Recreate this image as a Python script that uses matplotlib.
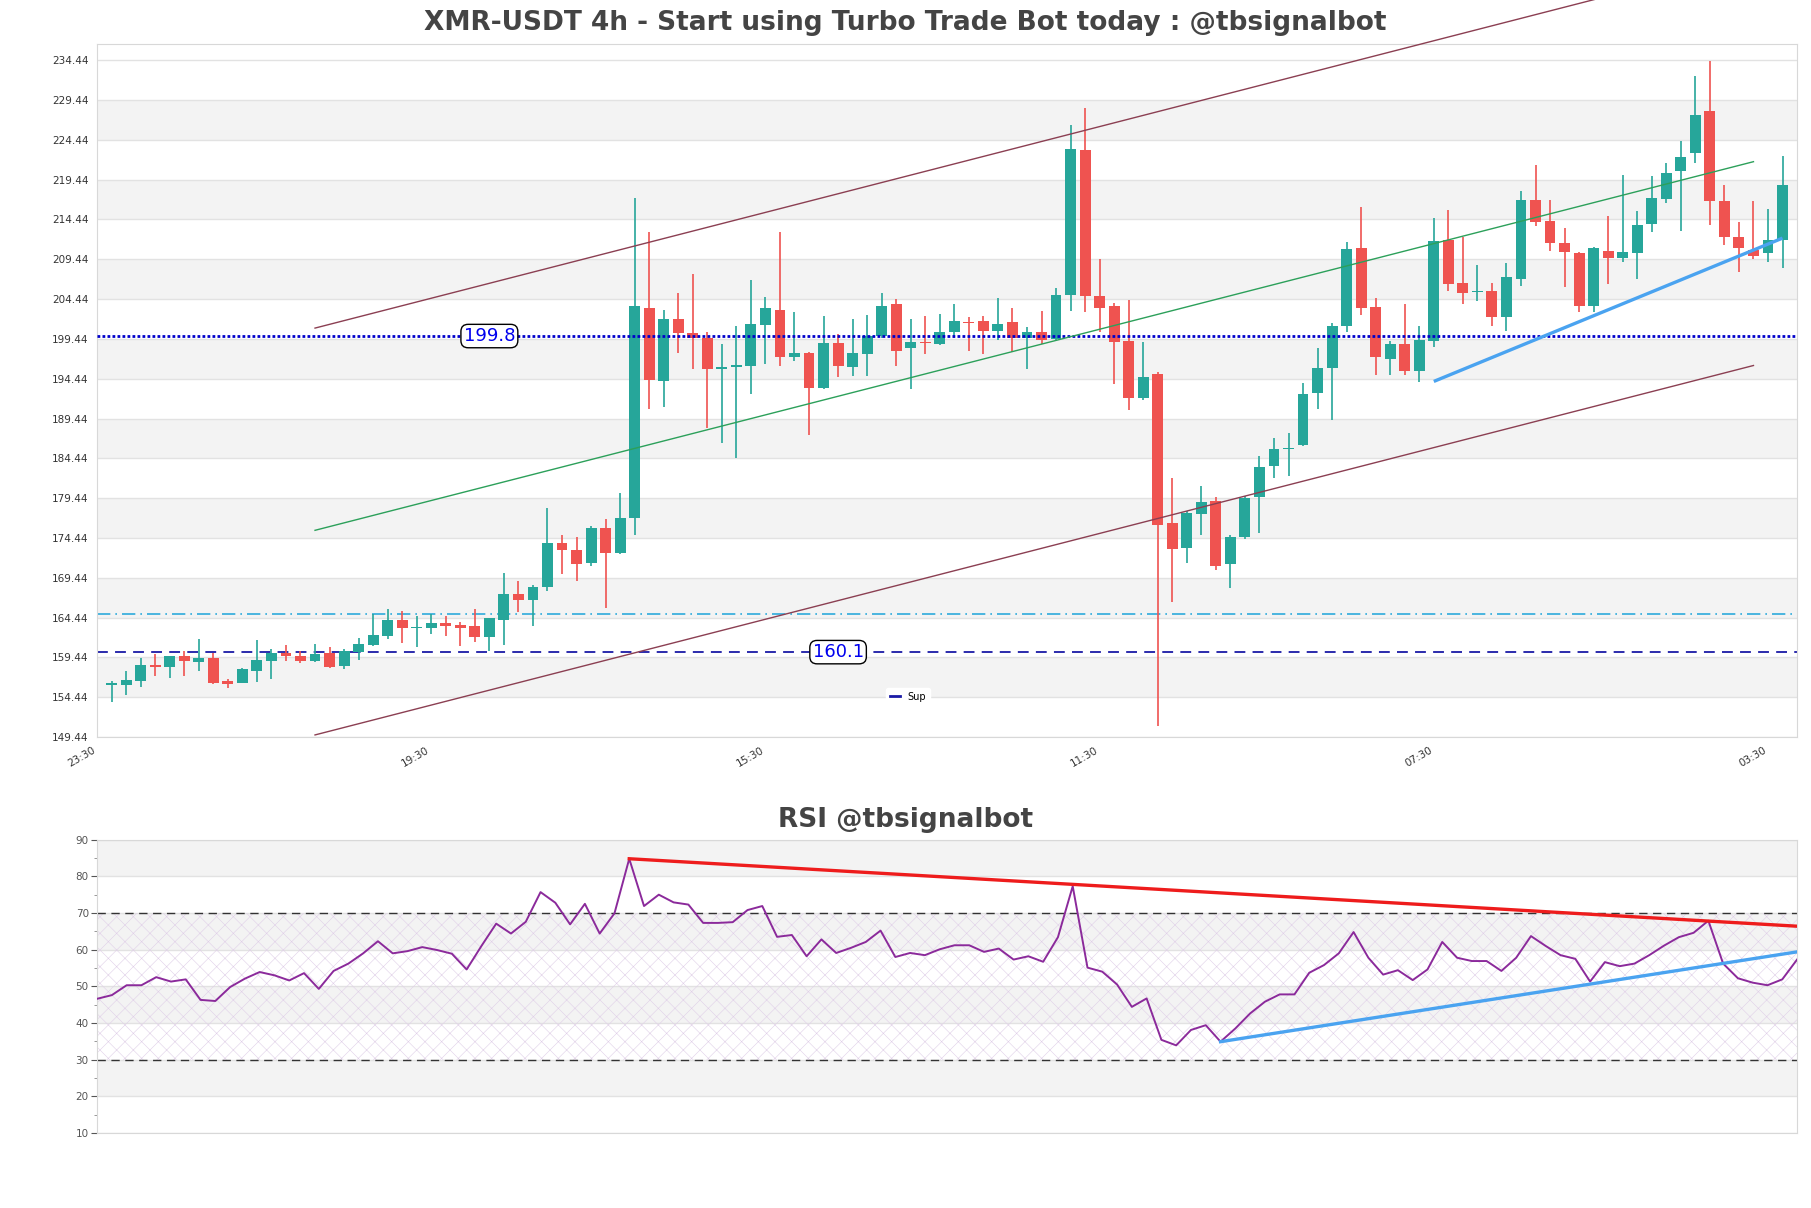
import matplotlib
matplotlib.use("Agg")
import matplotlib.pyplot as plt
from matplotlib.lines import Line2D
import numpy as np

# ---------------- data ----------------
opens = [155.96, 156.00, 156.51, 158.47, 158.27, 159.57, 158.90, 159.36, 156.51, 156.22,
         157.77, 159.02, 159.98, 159.57, 159.02, 159.98, 158.39, 160.15, 160.99, 162.16,
         164.13, 163.08, 163.13, 163.75, 163.50, 163.33, 162.04, 164.17, 167.40, 166.68,
         168.32, 173.84, 172.92, 171.24, 175.64, 172.50, 176.89, 203.28, 194.15, 201.89,
         200.13, 199.59, 195.61, 195.90, 196.10, 201.20, 203.02, 197.16, 197.71, 193.30,
         198.90, 195.91, 197.58, 199.80, 203.78, 198.33, 199.00, 198.80, 200.32, 201.50,
         201.63, 200.43, 201.52, 199.51, 200.27, 199.40, 204.96, 223.17, 204.79, 203.54,
         199.23, 191.98, 195.09, 176.28, 173.17, 177.42, 179.06, 171.15, 174.53, 179.55,
         183.53, 185.60, 186.15, 192.60, 195.80, 201.00, 210.87, 203.48, 196.90, 198.79,
         195.43, 199.20, 211.87, 206.42, 205.30, 205.41, 202.23, 207.00, 216.91, 214.22,
         211.50, 210.24, 203.61, 210.45, 209.57, 210.20, 213.90, 217.03, 220.47, 222.78,
         228.02, 216.74, 212.21, 210.61, 210.20, 211.92]
highs = [156.43, 157.68, 159.31, 159.86, 159.60, 160.19, 161.74, 159.98, 156.72, 158.10,
         161.62, 160.49, 160.99, 160.28, 161.12, 160.70, 160.49, 161.87, 164.88, 165.51,
         165.22, 164.67, 164.88, 164.67, 163.84, 165.51, 164.40, 170.04, 168.99, 168.53,
         178.24, 174.76, 174.59, 175.98, 176.77, 180.03, 217.18, 212.87, 203.02, 205.16,
         207.55, 200.30, 198.75, 201.06, 206.84, 204.74, 212.87, 202.86, 197.83, 202.31,
         200.09, 201.89, 202.44, 205.24, 204.41, 201.89, 202.34, 202.61, 203.87, 202.18,
         202.34, 204.63, 203.27, 200.98, 202.89, 205.89, 226.33, 228.40, 209.43, 203.98,
         204.36, 199.07, 195.25, 182.00, 177.80, 180.91, 179.55, 174.80, 179.70, 184.73,
         186.96, 187.62, 193.89, 198.25, 201.40, 211.58, 215.98, 204.53, 199.21, 203.82,
         201.09, 214.60, 215.65, 212.21, 208.73, 206.42, 208.94, 218.00, 221.31, 216.91,
         213.38, 210.40, 210.95, 214.94, 220.05, 215.48, 219.84, 221.56, 224.25, 232.47,
         234.36, 218.79, 214.10, 216.74, 215.77, 222.36]
lows = [153.79, 154.71, 155.76, 157.14, 156.84, 157.14, 157.77, 156.09, 155.55, 156.17,
        156.38, 156.72, 159.02, 158.69, 158.81, 158.10, 157.97, 159.15, 160.82, 161.74,
        161.24, 160.78, 162.37, 162.16, 160.91, 161.33, 160.19, 161.03, 165.18, 163.42,
        167.77, 169.86, 169.02, 170.91, 165.59, 172.40, 174.76, 190.59, 190.88, 197.71,
        195.61, 188.28, 186.40, 184.43, 192.47, 196.32, 196.03, 196.66, 187.32, 193.20,
        194.65, 194.78, 194.78, 199.59, 196.03, 193.18, 197.60, 198.69, 199.61, 197.98,
        197.60, 199.34, 197.82, 195.63, 198.80, 199.34, 202.89, 202.78, 200.27, 193.73,
        190.51, 191.82, 150.81, 166.35, 171.26, 174.81, 170.44, 168.10, 174.30, 175.08,
        182.00, 182.17, 186.00, 190.62, 189.26, 200.34, 202.44, 194.88, 194.88, 194.88,
        194.05, 198.37, 205.50, 203.82, 204.24, 201.09, 200.46, 206.13, 213.68, 210.53,
        206.00, 202.77, 202.77, 206.34, 209.15, 206.97, 212.92, 216.53, 213.05, 221.52,
        213.80, 211.29, 207.80, 209.48, 209.15, 208.35]
closes = [155.98, 156.59, 158.47, 158.27, 159.57, 159.02, 159.36, 156.22, 156.13, 157.97,
          159.10, 159.98, 159.57, 159.02, 159.86, 158.27, 160.19, 161.12, 162.25, 164.13,
          163.08, 163.17, 163.75, 163.42, 163.13, 162.04, 164.38, 167.40, 166.68, 168.32,
          173.84, 172.92, 171.12, 175.64, 172.50, 176.98, 203.57, 194.23, 201.89, 200.13,
          199.51, 195.61, 195.95, 196.11, 201.27, 203.28, 197.16, 197.71, 193.23, 198.96,
          196.03, 197.71, 199.80, 203.57, 197.92, 199.09, 198.90, 200.32, 201.63, 201.41,
          200.43, 201.36, 199.51, 200.32, 199.34, 204.96, 223.33, 204.79, 203.32, 199.07,
          191.98, 194.71, 176.06, 173.01, 177.53, 179.00, 170.88, 174.53, 179.44, 183.37,
          185.60, 185.80, 192.53, 195.80, 201.09, 210.74, 203.27, 197.23, 198.79, 195.43,
          199.29, 211.71, 206.34, 205.20, 205.40, 202.23, 207.17, 216.91, 214.18, 211.45,
          210.32, 203.61, 210.82, 209.57, 210.32, 213.76, 217.16, 220.26, 222.28, 227.60,
          216.82, 212.21, 210.82, 209.90, 211.92, 218.71]
rsi = [46.6, 47.6, 50.3, 50.3, 52.5, 51.3, 51.9, 46.3, 46.0, 49.8,
       52.1, 53.9, 53.0, 51.6, 53.6, 49.3, 54.2, 56.2, 59.0, 62.3,
       59.0, 59.6, 60.7, 59.9, 58.9, 54.6, 61.0, 67.1, 64.4, 67.6,
       75.7, 72.8, 66.9, 72.5, 64.4, 69.9, 84.8, 71.9, 75.0, 72.9,
       72.3, 67.3, 67.3, 67.5, 70.8, 71.9, 63.5, 64.0, 58.2, 62.8,
       59.1, 60.5, 62.1, 65.2, 58.0, 59.1, 58.5, 60.1, 61.2, 61.2,
       59.4, 60.3, 57.3, 58.2, 56.7, 63.4, 77.3, 55.1, 54.0, 50.5,
       44.4, 46.7, 35.4, 33.9, 38.1, 39.4, 34.9, 38.5, 42.6, 45.8,
       47.8, 47.8, 53.7, 55.8, 59.0, 64.8, 57.8, 53.2, 54.4, 51.7,
       54.6, 62.1, 57.8, 56.9, 56.9, 54.2, 57.8, 63.7, 61.0, 58.5,
       57.5, 51.3, 56.6, 55.5, 56.2, 58.5, 61.1, 63.4, 64.6, 67.9,
       56.2, 52.2, 51.0, 50.3, 51.9, 57.3]

x_tick_labels = ["23:30", "19:30", "15:30", "11:30", "07:30", "03:30"]
y_tick_values = [149.44 + 5 * k for k in range(18)]

# channel lines (start index, end index) and prices
channel_x = [14, 113]
channel_upper = [200.8, 247.2]
channel_mid = [175.4, 221.7]
channel_lower = [149.7, 196.1]
trend_main_x = [91, 115]
trend_main_y = [194.1, 212.1]
resistance_level = 199.8
support_level = 160.1
aux_level = 164.88
rsi_res_x = [36, 115]
rsi_res_y = [84.8, 66.4]
rsi_sup_x = [76, 115]
rsi_sup_y = [34.9, 59.4]

# ---------------- figure ----------------
N = len(opens)
xs = np.arange(N)
fig = plt.figure(figsize=(18.11, 12.08), dpi=100)
ax = fig.add_axes([0.0536, 0.3899, 0.9387, 0.5738])
ax2 = fig.add_axes([0.0536, 0.0621, 0.9387, 0.2428])

GREEN = "#26a69a"
RED = "#ef5350"
BAND = "#f3f3f3"
GRID = "#e2e2e2"
SPINE = "#d8d8d8"

ymin, ymax = 149.44, 236.5
ax.set_xlim(-1, N)
ax.set_ylim(ymin, ymax)
for k in range(1, len(y_tick_values) - 1, 2):
    ax.axhspan(y_tick_values[k], y_tick_values[k + 1], color=BAND, zorder=0, lw=0)
ax.set_yticks(y_tick_values)
ax.set_yticklabels(["%.2f" % v for v in y_tick_values])
ax.yaxis.grid(True, color=GRID, lw=1, zorder=0.5)
ax.set_axisbelow(True)

tick_pos = [-1 + 23 * k for k in range(len(x_tick_labels))]
ax.set_xticks(tick_pos)
ax.set_xticklabels(x_tick_labels, rotation=30, ha="right")
ax.tick_params(axis="both", length=0, labelsize=7.5, colors="#333333", pad=6)
for s in ax.spines.values():
    s.set_color(SPINE)

# candles
o = np.array(opens); h = np.array(highs); l = np.array(lows); c = np.array(closes)
up = c >= o
cols = np.where(up, GREEN, RED)
ax.vlines(xs, l, h, colors=cols, lw=1.2, zorder=3)
bottoms = np.minimum(o, c)
heights = np.maximum(np.abs(c - o), 0.2)
ax.bar(xs, heights, bottom=bottoms, width=0.75, color=cols, zorder=4, lw=0)

# horizontal levels
ax.axhline(resistance_level, color="#0000cc", lw=2, ls=(0, (1, 0.8)), zorder=5)
ax.axhline(aux_level, color="#2eaadc", lw=1.2, ls=(0, (8, 3, 1, 3)), zorder=2)
ax.axhline(support_level, color="#1a1aa6", lw=1.3, ls=(0, (6, 4)), zorder=2)
box = dict(boxstyle="round,pad=0.15,rounding_size=0.4", fc="white", ec="black", lw=1)
ax.text(26, resistance_level, "%.1f" % resistance_level, color="#0000ee", fontsize=13,
        ha="center", va="center", bbox=box, zorder=7)
ax.text(50, support_level, "%.1f" % support_level, color="#0000ee", fontsize=13,
        ha="center", va="center", bbox=box, zorder=7)

# channel
ax.plot(channel_x, channel_upper, color="#8b3f52", lw=1, clip_on=False, zorder=6)
ax.plot(channel_x, channel_mid, color="#2ca05a", lw=1, clip_on=False, zorder=6)
ax.plot(channel_x, channel_lower, color="#8b3f52", lw=1, clip_on=False, zorder=6)
ax.plot(trend_main_x, trend_main_y, color="#4aa3f0", lw=2.4, zorder=6, solid_capstyle="butt")

leg = ax.legend(handles=[Line2D([0], [0], color="#1a1aa6", lw=2)], labels=["Sup"],
                loc="center", bbox_to_anchor=(0.477, 0.058), fontsize=7,
                frameon=True, edgecolor="white", facecolor="white", framealpha=1,
                handlelength=1.0, handletextpad=0.8, borderpad=0.4)

fig.text(0.5, 0.981, "XMR-USDT 4h - Start using Turbo Trade Bot today : @tbsignalbot",
         ha="center", va="center", fontsize=19, fontweight="bold", color="#444444")

# ---------------- RSI ----------------
ax2.set_xlim(0, N - 1)
ax2.set_ylim(10, 90)
for lo_, hi_ in [(80, 90), (60, 70), (40, 50), (20, 30)]:
    ax2.axhspan(lo_, hi_, color=BAND, zorder=0, lw=0)
ax2.set_yticks(list(range(10, 91, 10)))
ax2.set_yticks(list(range(15, 90, 10)), minor=True)
ax2.yaxis.grid(True, color=GRID, lw=1, zorder=0.5)
ax2.set_axisbelow(True)
ax2.set_xticks([])
ax2.tick_params(axis="y", which="major", length=4, labelsize=7.5, colors="#555555", pad=2)
ax2.tick_params(axis="y", which="minor", length=2.5, colors="#888888")
for s in ax2.spines.values():
    s.set_color(SPINE)
plt.rcParams["hatch.linewidth"] = 0.4
ax2.fill_between([0, N - 1], 30, 70, facecolor="none", edgecolor="#e0cfe8",
                 hatch="xx", lw=0, zorder=1)
ax2.axhline(70, color="#333333", lw=1, ls=(0, (6, 4)), zorder=2)
ax2.axhline(30, color="#333333", lw=1, ls=(0, (6, 4)), zorder=2)
ax2.plot(xs, rsi, color="#8b2a9b", lw=1.4, zorder=4)
ax2.plot(rsi_res_x, rsi_res_y, color="#ee1c1c", lw=2.4, zorder=5)
ax2.plot(rsi_sup_x, rsi_sup_y, color="#4aa3f0", lw=2.4, zorder=5)

fig.text(0.5, 0.321, "RSI @tbsignalbot", ha="center", va="center",
         fontsize=19, fontweight="bold", color="#444444")

fig.savefig("out.png", dpi=100)
